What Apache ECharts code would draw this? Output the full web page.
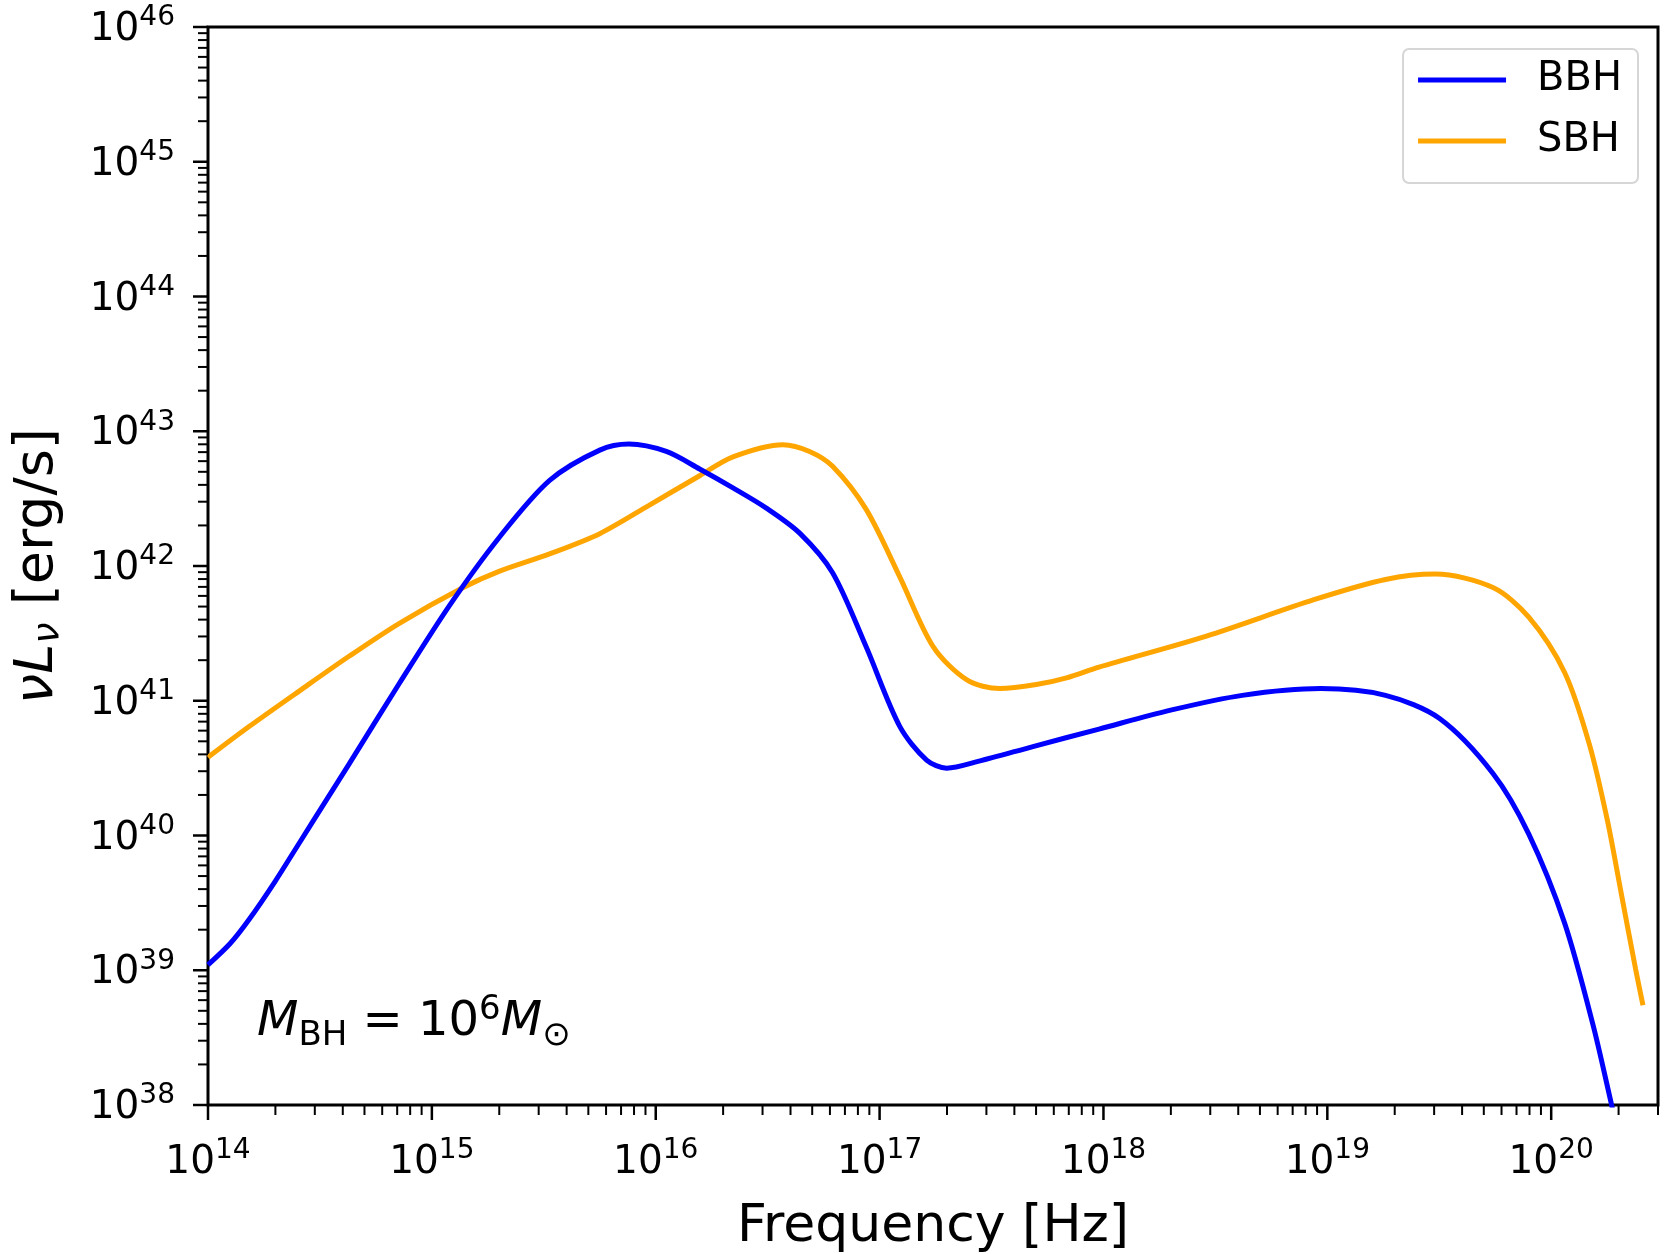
<!DOCTYPE html>
<html>
<head>
<meta charset="utf-8">
<script src="https://cdn.jsdelivr.net/npm/echarts@6/dist/echarts.min.js"></script>
<style>html,body{margin:0;padding:0;background:#fff}#c{width:1664px;height:1254px}</style>
</head>
<body>
<div id="c"></div>
<script>
// ---- data (log10 values) ----
const bbhLogNu = [14.00,14.10,14.185,14.30,14.41,14.52,14.63,14.855,15.08,15.30,15.526,15.75,15.88,16.047,16.196,16.345,16.494,16.643,16.79,16.94,17.09,17.21,17.30,17.44,17.685,17.98,18.30,18.62,18.97,19.26,19.50,19.74,19.90,20.06,20.186,20.27,20.30];
const bbhLogL  = [39.04,39.20,39.38,39.66,39.95,40.24,40.53,41.13,41.71,42.21,42.635,42.86,42.905,42.85,42.72,42.58,42.43,42.244,41.95,41.40,40.81,40.56,40.50,40.55,40.66,40.79,40.93,41.04,41.09,41.04,40.87,40.46,40.01,39.35,38.60,38.00,37.78];
const sbhLogNu = [14.00,14.185,14.41,14.63,14.855,15.14,15.30,15.526,15.75,15.97,16.196,16.345,16.568,16.687,16.79,16.94,17.09,17.24,17.39,17.537,17.70,17.835,17.98,18.46,18.94,19.26,19.483,19.74,19.90,20.06,20.17,20.25,20.313,20.377,20.41];
const sbhLogL  = [40.58,40.81,41.075,41.33,41.575,41.84,41.96,42.09,42.24,42.45,42.67,42.81,42.90,42.85,42.74,42.42,41.92,41.40,41.155,41.09,41.12,41.17,41.25,41.48,41.75,41.90,41.94,41.84,41.62,41.21,40.68,40.12,39.57,39.01,38.74];

const seriesNames = ['BBH', 'SBH'];
const xMajorTicks = [1e14, 1e15, 1e16, 1e17, 1e18, 1e19, 1e20];
const yMajorTicks = [1e38, 1e39, 1e40, 1e41, 1e42, 1e43, 1e44, 1e45, 1e46];
const minorMultipliers = [2, 3, 4, 5, 6, 7, 8, 9];
const xMin = 1e14, xMax = 3e20, yMin = 1e38, yMax = 1e46;

// ---- build ----
const FONT = 'DejaVu Sans';
const toPts = (lx, ly) => lx.map((v, i) => [Math.pow(10, v), Math.pow(10, ly[i])]);
const minorOf = (majors, max) => {
  const out = [];
  majors.forEach(d => minorMultipliers.forEach(m => { const v = m * d; if (v <= max * 1.0000001) out.push(v); }));
  return out;
};
const xMinorTicks = minorOf(xMajorTicks, xMax);
const yMinorTicks = minorOf(yMajorTicks.slice(0, -1), yMax);

function tickSeries(values, dir, len, width) {
  return {
    type: 'custom', silent: true, clip: false, z: 10,
    data: values.map(v => dir === 'x' ? [v, yMin] : [xMin, v]),
    renderItem: function (params, api) {
      const p = api.coord([api.value(0), api.value(1)]);
      const s = dir === 'x'
        ? { x1: p[0], y1: p[1], x2: p[0], y2: p[1] + len }
        : { x1: p[0] - len, y1: p[1], x2: p[0], y2: p[1] };
      return { type: 'line', shape: s, style: { stroke: '#000', lineWidth: width } };
    }
  };
}

const expFmt = v => {
  const e = Math.log10(v);
  if (Math.abs(e - Math.round(e)) > 1e-6) return '';
  return '{b|10}{s|' + Math.round(e) + '}';
};
const expRich = {
  b: { fontSize: 39, lineHeight: 52, fontFamily: FONT, color: '#000' },
  s: { fontSize: 28, lineHeight: 28, verticalAlign: 'top', fontFamily: FONT, color: '#000' }
};

const chart = echarts.init(document.getElementById('c'), null, { renderer: 'canvas' });
chart.setOption({
  animation: false,
  backgroundColor: '#fff',
  grid: { left: 208, right: 6, top: 27, bottom: 149, show: true, borderColor: '#000', borderWidth: 3, backgroundColor: 'transparent', outerBoundsMode: 'none' },
  legend: {
    data: seriesNames, right: 26, top: 49, orient: 'vertical', selectedMode: false,
    icon: 'rect', itemWidth: 88, itemHeight: 5, itemGap: 21,
    padding: [11, 16, 22, 15],
    backgroundColor: '#fff', borderColor: '#d6d6d6', borderWidth: 2, borderRadius: 6,
    textStyle: { fontSize: 40, fontFamily: FONT, color: '#000', padding: [0, 0, 0, 26] }
  },
  xAxis: {
    type: 'log', logBase: 10, min: xMin, max: xMax,
    axisLine: { show: false }, axisTick: { show: false }, splitLine: { show: false }, minorTick: { show: false },
    axisLabel: { margin: 32, formatter: expFmt, rich: expRich, showMaxLabel: false },
    name: 'Frequency [Hz]', nameLocation: 'middle', nameGap: 96,
    nameTextStyle: { fontSize: 52, fontFamily: FONT, color: '#000' }
  },
  yAxis: {
    type: 'log', logBase: 10, min: yMin, max: yMax,
    axisLine: { show: false }, axisTick: { show: false }, splitLine: { show: false }, minorTick: { show: false },
    axisLabel: { margin: 33, formatter: expFmt, rich: expRich, padding: [6, 0, 0, 0] },
    name: '{i|νL}{sub|ν}{n| [erg/s]}', nameLocation: 'middle', nameGap: 143,
    nameTextStyle: {
      color: '#000',
      rich: {
        i: { fontSize: 54, fontStyle: 'italic', fontFamily: FONT, color: '#000' },
        sub: { fontSize: 38, lineHeight: 38, fontStyle: 'italic', verticalAlign: 'top', padding: [18, 0, 0, 0], fontFamily: FONT, color: '#000' },
        n: { fontSize: 54, fontFamily: FONT, color: '#000' }
      }
    }
  },
  graphic: [{
    type: 'text', x: 257, y: 993, silent: true,
    style: {
      text: '{mi|M}{sub|BH}{n| = 10}{sup|6}{mi|M}{sub|⊙}',
      fill: '#000',
      rich: {
        mi: { fontSize: 48, lineHeight: 60, fontStyle: 'italic', fontFamily: FONT, fill: '#000', color: '#000' },
        n: { fontSize: 48, lineHeight: 60, fontFamily: FONT, fill: '#000', color: '#000' },
        sub: { fontSize: 34, lineHeight: 34, verticalAlign: 'bottom', fontFamily: FONT, fill: '#000', color: '#000' },
        sup: { fontSize: 34, lineHeight: 34, verticalAlign: 'top', fontFamily: FONT, fill: '#000', color: '#000' }
      }
    }
  }],
  series: [
    { name: seriesNames[0], type: 'line', data: toPts(bbhLogNu, bbhLogL), symbol: 'none', smooth: 0.3, lineStyle: { color: '#0000ff', width: 5 }, itemStyle: { color: '#0000ff' }, z: 3 },
    { name: seriesNames[1], type: 'line', data: toPts(sbhLogNu, sbhLogL), symbol: 'none', smooth: 0.3, lineStyle: { color: '#ffa500', width: 5 }, itemStyle: { color: '#ffa500' }, z: 2 },
    tickSeries(xMajorTicks, 'x', 15, 2.5),
    tickSeries(xMinorTicks, 'x', 10, 2),
    tickSeries(yMajorTicks, 'y', 15, 2.5),
    tickSeries(yMinorTicks, 'y', 10, 2)
  ]
});
</script>
</body>
</html>
